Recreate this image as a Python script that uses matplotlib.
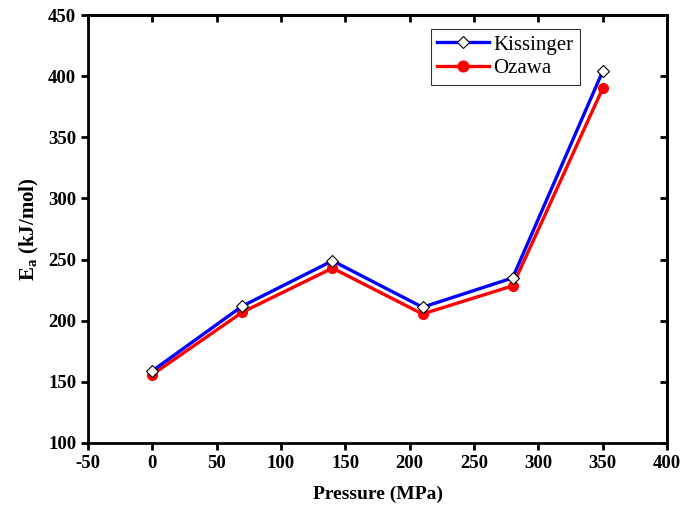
import matplotlib
matplotlib.use("Agg")
import matplotlib.pyplot as plt

pressure = [0, 70, 140, 210, 280, 350]
kissinger = [159, 212, 249, 211, 235, 404]
ozawa = [156, 207, 243, 205.5, 228.5, 390]

plt.rcParams['font.family'] = ['Liberation Serif', 'DejaVu Serif']
plt.rcParams['mathtext.fontset'] = 'custom'
plt.rcParams['mathtext.rm'] = 'Liberation Serif:bold'
plt.rcParams['mathtext.bf'] = 'Liberation Serif:bold'
plt.rcParams['axes.unicode_minus'] = False

fig = plt.figure(figsize=(6.97, 5.12), dpi=100)
ax = fig.add_axes([0.1263, 0.1348, 0.8307, 0.8359])

ax.plot(pressure, kissinger, color='#0000ff', lw=2.4, marker='D', ms=6,
        mfc='white', mec='black', mew=0.8, label='Kissinger', zorder=3)
ax.plot(pressure, ozawa, color='#ff0000', lw=2.4, marker='o', ms=7,
        mfc='#ff0000', mec='#ff0000', label='Ozawa', zorder=2)

ax.set_xlim(-50, 400)
ax.set_ylim(100, 450)
ax.set_xticks(range(-50, 401, 50))
ax.set_yticks(range(100, 451, 50))

for s in ax.spines.values():
    s.set_linewidth(2)

ax.tick_params(axis='both', which='major', direction='out', length=5, width=2,
               labelsize=13.5)
for lab in ax.get_xticklabels() + ax.get_yticklabels():
    lab.set_fontweight('bold')

# mirrored ticks on top/right pointing inward
ax2 = ax.secondary_xaxis('top')
ax2.set_xticks(range(-50, 401, 50))
ax2.tick_params(direction='in', length=5, width=2, labeltop=False)
ax3 = ax.secondary_yaxis('right')
ax3.set_yticks(range(100, 451, 50))
ax3.tick_params(direction='in', length=5, width=2, labelright=False)
ax2.spines['top'].set_linewidth(2)
ax3.spines['right'].set_linewidth(2)

ax.set_xlabel('Pressure (MPa)', fontsize=14, fontweight='bold', labelpad=10)
ax.set_ylabel(r'E$_{\mathbf{a}}$ (kJ/mol)', fontsize=15, fontweight='bold', labelpad=5)

leg = ax.legend(loc='upper left', bbox_to_anchor=(0.592, 0.968), fontsize=15,
                frameon=True, fancybox=False, edgecolor='black', handlelength=2.5,
                borderpad=0.3, labelspacing=0.2, handletextpad=0.2,
                borderaxespad=0, markerscale=1.1)
leg.get_frame().set_linewidth(0.8)

fig.savefig('out.png', dpi=100)
